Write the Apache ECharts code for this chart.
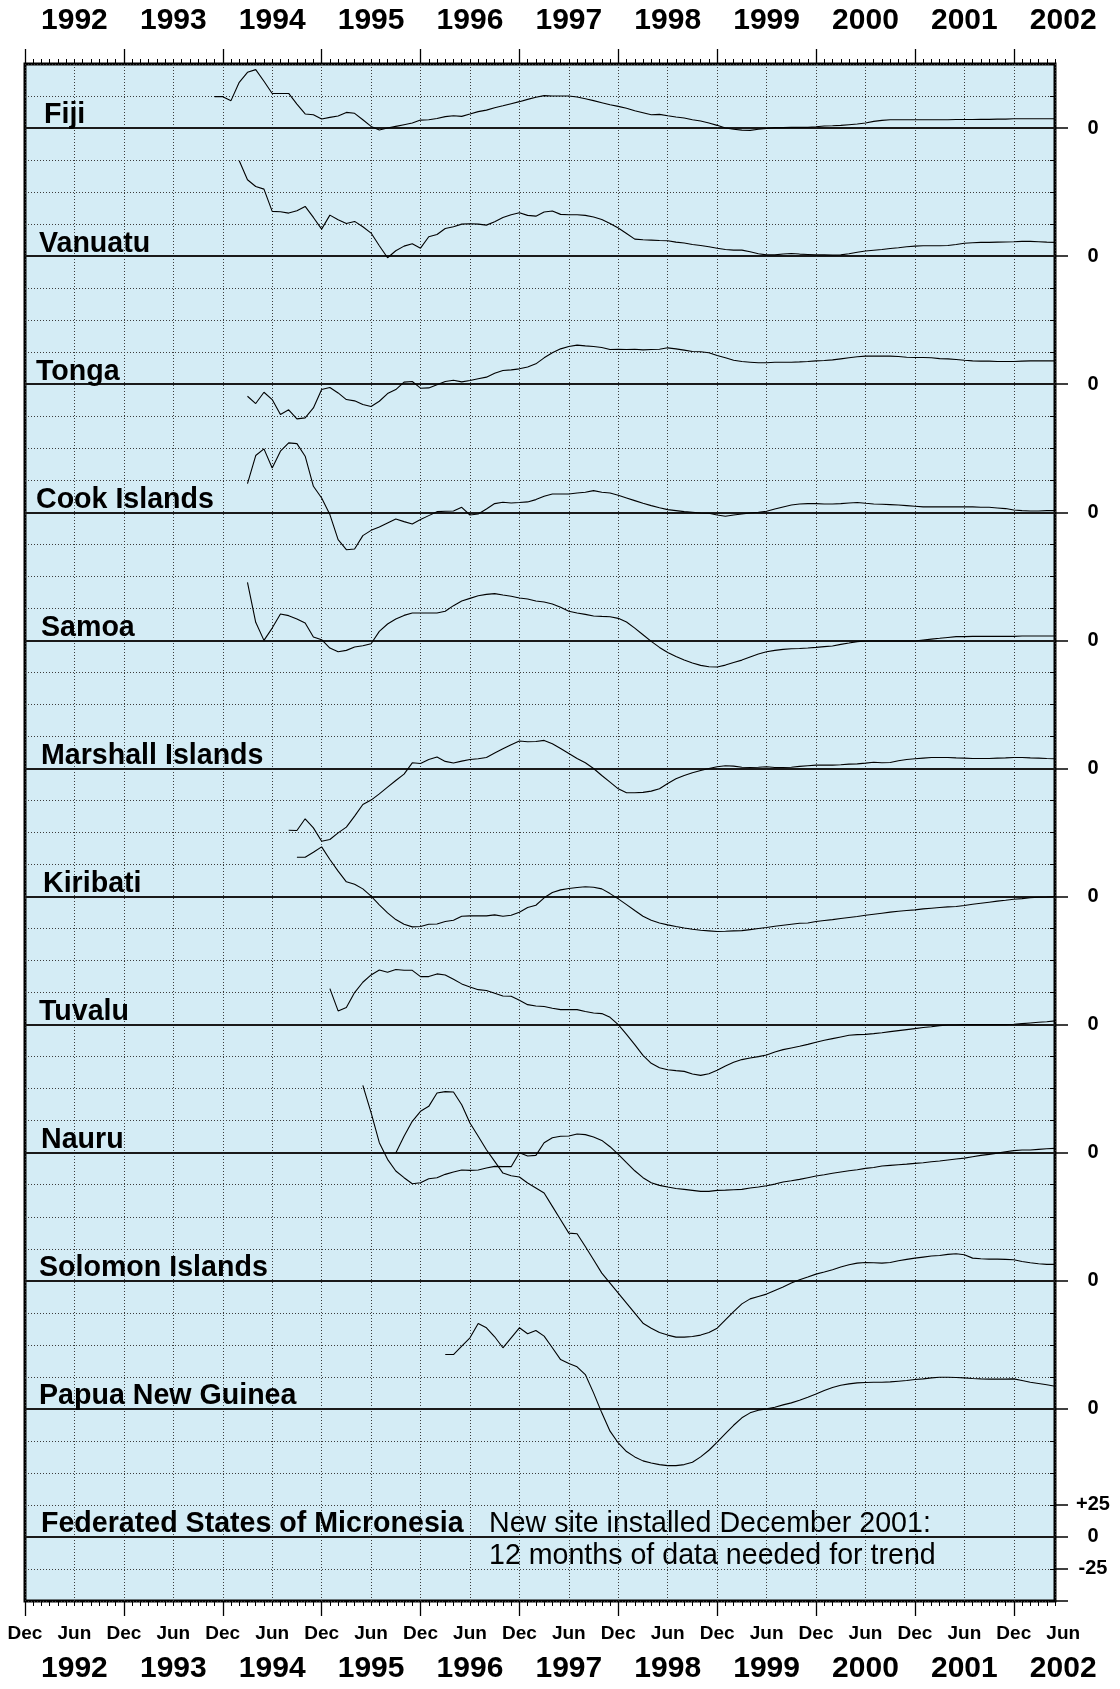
<!DOCTYPE html>
<html><head><meta charset="utf-8">
<script src="https://cdn.jsdelivr.net/npm/echarts@6/dist/echarts.min.js"></script>
<style>html,body{margin:0;padding:0;background:#fff}#c{width:1120px;height:1689px}</style>
</head><body><div id="c"></div>
<script>
// ---- DATA (month index: 0 = Dec 1991) ----
const countries = ["Fiji","Vanuatu","Tonga","Cook Islands","Samoa","Marshall Islands","Kiribati","Tuvalu","Nauru","Solomon Islands","Papua New Guinea","Federated States of Micronesia"];
const yearLabels = ["1992","1993","1994","1995","1996","1997","1998","1999","2000","2001","2002"];
const monthLabels = ["Dec","Jun"];
const startMonth = [23,26,27,27,27,32,33,37,41,45,51];

const fiji = [24.5,24.5,21.4,35.7,43.5,45.6,36.5,27,27,27,18.7,11,10.4,7,8.3,9.4,12.2,11.5,6.5,1.3,-1.6,0,1.3,2.6,3.9,6.2,6.5,7.5,8.9,9.6,9.1,10.9,12.8,14,15.9,17.4,19,20.6,22.4,24,25.3,25,25,25,24.2,22.9,21.4,19.8,18.2,16.9,15.4,13.5,12,10.4,10.7,9.6,8.6,7.8,6.5,5.5,3.9,2.1,0,-1,-1.6,-1.8,-1,-0.3,0.3,0.3,0.5,0.5,0.5,1,1.6,1.8,2.1,2.6,3.1,3.9,5.2,6,6.5,6.5,6.5,6.5,6.5,6.5,6.5,6.5,6.7,6.7,6.7,6.8,6.8,7,7,7.2,7.3,7.3,7.3,7.3,7.3];
const vanuatu = [74.5,59.6,54.4,52.3,34.9,34.6,33.6,35.4,38.8,30.2,21.1,32,28.4,25.5,27.1,22.9,18,8.1,-1.3,4.2,7.8,9.6,6.2,15.1,16.9,21.6,22.9,25,25.3,25,24.2,26.8,30.2,32.3,33.9,31.8,31.2,34.4,35.2,32.6,32.3,32.3,31.8,30.5,28.6,25.5,21.9,17.7,13.3,12.8,12.5,12.2,12,10.9,10.2,9.1,8.3,7.3,6.2,5.2,4.7,4.7,3.4,1.8,1,1,1.6,2,1.6,1.3,1,1,0.8,1,1.8,3,4,4.6,5.2,6,6.5,7.3,7.8,8.1,8.1,8.1,8.3,9.1,10,10.5,10.7,10.7,10.9,11,11.2,11.5,11.5,11.2,10.9,10.7];
const tonga = [-9.4,-15.1,-6.3,-12,-23.7,-20,-27.1,-26.3,-18.5,-4.2,-2.6,-6.8,-12,-13,-15.9,-17.4,-13.3,-7.3,-4.2,1.6,2.1,-3.1,-2.9,-0.5,2.1,3.1,1.8,2.9,4.2,5.5,8.6,10.7,11.2,12,13.5,15.9,20.6,24.5,27.6,29.4,30.5,29.9,29.4,28.6,27.1,27.3,27.1,27.3,26.8,27.1,27.3,28.4,27.6,26.6,25.5,25.3,24.5,22.4,20.6,18.7,17.7,17.2,16.7,16.7,17.2,17.2,17.2,17.4,17.7,18.2,18.5,19,19.8,20.6,21.4,21.9,21.9,21.9,21.9,21.6,21.1,20.8,20.8,20.6,20,19.8,19.3,18.7,18.2,18,18,17.7,17.7,17.7,18,18.2,18.2,18.2,18.2];
const cookIslands = [22.4,44.3,49.5,34.6,47.7,54.2,53.6,43.8,20.3,11.2,-1.8,-21.4,-29.2,-28.6,-18.2,-14.1,-11.5,-8.3,-5.2,-7.3,-9.1,-5.7,-2.6,0.5,0.8,1,3.9,-2.1,-1.3,2.6,6.8,7.8,7.3,7.6,8.1,9.9,12.5,14.3,14.3,14.3,15.1,15.6,16.9,15.6,15.1,13.3,11.2,9.1,7,5.2,3.6,2.1,1.3,0.5,0,-0.5,-0.8,-2.1,-3.1,-2.1,-1.3,-0.5,0,0.8,2.6,4.2,5.7,6.5,6.8,6.8,6.5,6.5,6.8,7.3,7.6,7,6.5,6.3,6,5.7,5.2,4.7,4.2,4.2,4.2,4.2,4.2,4.2,4.2,3.9,3.9,3.4,2.9,1.8,1.3,1,1,1.3,1.3];
const samoa = [45.3,14.1,0,9.6,20.6,19.3,16.7,13.5,2.6,0.5,-6,-8.9,-7.8,-5.2,-4.2,-2.6,7,12.8,16.7,19.5,21.4,21.4,21.4,21.4,22.7,27.1,30.7,32.8,34.9,35.9,36.5,35.4,34.4,33.1,32.3,30.7,29.9,28.4,25.8,22.7,21.4,20.3,19,18.7,18.5,17.2,14.3,9.6,4.4,-0.8,-5.5,-9.4,-12.5,-15.4,-17.7,-19.5,-20.6,-20.8,-19.3,-17.2,-15.4,-13,-10.7,-8.9,-7.8,-7,-6.5,-6.3,-6,-5.5,-4.9,-4.4,-3.1,-2.1,-1,-0.5,-0.5,-0.5,-0.5,-0.5,-0.5,-0.5,0.3,1,1.6,2.3,2.9,2.9,3.1,3.1,3.1,3.1,3.1,3.1,3.4,3.4,3.4,3.4,3.4];
const marshallIslands = [-48.2,-48.4,-39.3,-46.4,-56.8,-55.5,-50.3,-45.8,-37.2,-28.1,-24.7,-19.8,-14.6,-9.4,-4.4,4.4,3.9,7,8.9,5.5,4.2,5.7,7,7.6,8.6,12,15.4,18.5,21.4,20.8,21.1,21.9,19.3,15.6,11.7,7.8,4.4,0,-5.5,-10.7,-15.9,-19,-19,-18.7,-17.7,-15.9,-11.7,-8.1,-5.5,-3.4,-1.6,0,1.3,2.1,1.8,1,0.8,1,1.3,0.8,0.8,1,1.6,2.1,2.6,2.6,2.6,2.9,3.4,3.6,4.2,4.9,4.4,4.7,6,7,7.6,8.1,8.6,8.6,8.6,8.3,8.1,7.8,7.8,7.8,8.1,8.3,8.6,8.6,8.3,8.1,7.8,7.6];
const kiribati = [30.7,30.7,34.6,38.8,28.9,19.8,11.5,9.6,6,0.3,-6.5,-12.8,-18,-21.6,-23.7,-23.4,-21.6,-21.4,-19.5,-18.5,-15.4,-15.1,-15.1,-15.1,-14.3,-15.4,-14.6,-12.2,-8.6,-6.8,-1,3.1,5.2,6.3,7,7.6,7.3,6,2.3,-1.8,-6.3,-10.9,-15.4,-18.5,-20.6,-22.1,-23.4,-24.5,-25.5,-26.3,-26.8,-27.3,-27.1,-26.8,-26.6,-25.8,-25,-24.2,-23.2,-22.4,-21.6,-20.8,-20.6,-19.5,-18.7,-18,-17.2,-16.4,-15.6,-14.6,-13.8,-13,-12.2,-11.5,-10.9,-10.4,-9.6,-9.1,-8.6,-8.1,-7.8,-7,-6,-5.2,-4.4,-3.6,-2.9,-2.1,-1.6,-1,-0.5,-0.3,0];
const tuvalu = [28.1,10.7,13.3,25,33.1,38.8,42.7,40.9,43,42.4,42.4,37.5,37.5,39.6,38.8,35.4,31.8,29.4,27.3,26.6,24.5,22.4,22.1,19,15.6,14.6,14.1,12.8,11.7,11.7,11.7,10.2,9.1,8.6,5.7,0,-7.6,-15.6,-24,-30.2,-33.6,-35.2,-35.9,-36.5,-38.5,-39.6,-38.3,-35.7,-32.3,-29.4,-27.3,-26,-25,-23.7,-21.4,-19.5,-18.2,-16.9,-15.4,-13.8,-12.2,-10.9,-9.6,-8.3,-7.8,-7.6,-7,-6.3,-5.5,-4.7,-3.9,-3.1,-2.3,-1.6,-0.8,-0.3,-0.3,0,0,0,0,0,0,0.3,0.8,1.3,1.8,2.3,2.9];
const nauru = [52.6,31.3,7.8,-5.2,-14.3,-19.5,-24.2,-23.4,-20.3,-19.5,-16.9,-15.1,-13.5,-13.8,-13.5,-12,-10.7,-10.9,-10.9,0,-2.6,-2.1,7.8,11.7,12.8,13,14.6,14.1,12.2,9.6,4.7,-1.3,-7.8,-14.1,-19.5,-23.4,-25.5,-26.8,-27.9,-28.6,-29.4,-30.2,-30.2,-29.4,-29.2,-28.9,-28.6,-27.6,-26.8,-25.8,-24.5,-22.9,-21.9,-20.8,-19.5,-18.2,-17.2,-16.1,-15.1,-14.1,-13.3,-12.2,-11.5,-10.4,-9.9,-9.4,-8.9,-8.3,-7.8,-7,-6.5,-5.7,-4.9,-4.2,-3.1,-2.1,-1.3,-0.3,0.8,1.6,2.1,2.1,2.6,3.1,3.4];
const solomonIslands = [99.7,112.8,124.5,132.3,136.2,146.6,147.7,147.4,137.5,123.2,112.8,102.3,93.2,84.1,82,81,76.3,72.4,68.5,58.1,47.7,37.2,36.7,26.8,16.4,6,-1.8,-9.6,-17.4,-25.3,-33.1,-37,-40.4,-42.4,-44,-44,-43.5,-42.4,-40.4,-37,-30.5,-24,-18,-14.1,-12.2,-10.4,-7.6,-4.9,-1.8,0.8,2.9,5.2,6.8,8.6,10.7,12.5,13.8,14.3,14.1,13.8,14.3,15.6,16.7,17.7,18.5,19.3,19.8,20.6,21.1,20.3,17.7,17.2,16.9,16.9,16.7,16.4,15.1,14.1,13.3,12.8,12.8];
const papuaNewGuinea = [42.4,42.4,49,55.5,66.7,63.3,56.3,47.7,55.5,63.3,58.6,61.2,56.8,47.7,38.5,35.4,32.8,26.8,12.5,-3.1,-17.4,-26.6,-33.3,-37.5,-40.6,-42.2,-43.5,-44.3,-44.3,-43.5,-41.7,-37.5,-32.3,-26,-19.3,-12.8,-7,-3.1,-1,0,1.3,3.1,4.7,6.8,9.1,11.7,14.3,16.7,18.5,19.5,20.3,20.6,20.8,20.8,21.1,21.6,22.1,22.9,23.4,24.2,24.7,24.7,24.5,24.2,23.7,23.4,23.2,23.2,23.2,23.4,22.1,20.8,19.8,18.8,17.7];
const fsmNote = ["New site installed December 2001:","12 months of data needed for trend"];

const seriesValues = [fiji,vanuatu,tonga,cookIslands,samoa,marshallIslands,kiribati,tuvalu,nauru,solomonIslands,papuaNewGuinea];

// ---- LAYOUT ----
const FONT = "'Liberation Sans', Arial, Helvetica, sans-serif";
const PANEL = 100; // vertical units between panel zero lines
const labelLeft = [44,39,36,36,41,41,43,39,41,39,39,41];

const chart = echarts.init(document.getElementById('c'), null, {renderer:'canvas'});

const zeroVals = countries.map((c,i)=> -PANEL*i);
const fsmZero = -PANEL*(countries.length-1);
const tickVals = zeroVals.concat([fsmZero+25, fsmZero-25, fsmZero-50]);
const labelVals = zeroVals.concat([fsmZero+25, fsmZero-25]);
const yearTicks = []; for (let m=0; m<=120; m+=12) yearTicks.push(m);

const series = seriesValues.map((vals,i)=>({
  name: countries[i], type:'line', xAxisIndex:0, yAxisIndex:0,
  showSymbol:false, symbol:'none', animation:false, silent:true, z:5,
  lineStyle:{color:'#000', width:1.1},
  data: vals.map((v,k)=>[startMonth[i]+k, v - PANEL*i])
}));
series[0].markLine = {
  silent:true, symbol:'none', animation:false, label:{show:false}, z:4,
  lineStyle:{color:'#1a1a1a', width:1.8, type:'solid'},
  data: zeroVals.map(v=>({yAxis:v}))
};

const xBase = {type:'value', min:0, max:125, axisLine:{show:false,onZero:false}, axisLabel:{show:false}, splitLine:{show:false}};
chart.setOption({
  animation:false,
  backgroundColor:'#ffffff',
  grid:{left:25, right:65, top:64, bottom:88, show:true, backgroundColor:'#d4ecf5', borderColor:'#000', borderWidth:3, outerBoundsMode:'none', containLabel:false},
  xAxis:[
    Object.assign({}, xBase, {position:'bottom', interval:1, axisTick:{show:true, length:5, lineStyle:{color:'#000', width:1}}}),
    Object.assign({}, xBase, {position:'top', interval:1, axisTick:{show:true, length:5, lineStyle:{color:'#000', width:1}}}),
    Object.assign({}, xBase, {position:'bottom', interval:12, axisTick:{show:true, length:15, customValues:yearTicks, lineStyle:{color:'#000', width:1.3}}}),
    Object.assign({}, xBase, {position:'top', interval:12, axisTick:{show:true, length:15, customValues:yearTicks, lineStyle:{color:'#000', width:1.3}}}),
    Object.assign({}, xBase, {position:'bottom', interval:6, axisTick:{show:false}, splitLine:{show:true, lineStyle:{color:'#3c3c3c', width:1, type:[1,2]}}})
  ],
  yAxis:[
    {type:'value', position:'right', min:-1150, max:50, interval:25,
     axisLine:{show:false,onZero:false}, axisTick:{show:true, inside:true, length:5, lineStyle:{color:'#000', width:1}},
     axisLabel:{show:false}, splitLine:{show:true, lineStyle:{color:'#3c3c3c', width:1, type:[1,2]}}},
    {type:'value', position:'right', min:-1150, max:50,
     axisLine:{show:false,onZero:false},
     axisTick:{show:true, length:13, customValues:tickVals, lineStyle:{color:'#000', width:1.5}},
     axisLabel:{show:true, customValues:labelVals, margin:38, align:'center', fontFamily:FONT, fontSize:20, fontWeight:'bold', color:'#000',
       formatter:(v)=> v===fsmZero+25 ? '+25' : (v===fsmZero-25 ? '-25' : '0')},
     splitLine:{show:false}}
  ],
  series: series
});

// ---- text placed through the chart's own scales ----
const gx = (m)=> chart.convertToPixel({xAxisIndex:0}, m);
const gy = (v)=> chart.convertToPixel({yAxisIndex:0}, v);
const g = [];
countries.forEach((c,i)=>{
  g.push({type:'text', left:labelLeft[i], top: gy(-PANEL*i) - 27, silent:true, z:10,
    style:{text:c, fontFamily:FONT, fontSize:28.6, fontWeight:'bold', fill:'#000'}});
});
g.push({type:'text', left:489, top: gy(fsmZero) - 27, silent:true, z:10,
  style:{text:fsmNote[0], fontFamily:FONT, fontSize:28.6, fill:'#000'}});
g.push({type:'text', left:489, top: gy(fsmZero) + 5, silent:true, z:10,
  style:{text:fsmNote[1], fontFamily:FONT, fontSize:28.6, fill:'#000'}});
yearLabels.forEach((y,k)=>{
  const x = gx(6 + 12*k);
  g.push({type:'text', x:x, y:21, silent:true, style:{text:y, fontFamily:FONT, fontSize:30, fontWeight:'bold', fill:'#000', align:'center', verticalAlign:'middle'}});
  g.push({type:'text', x:x, y:1669, silent:true, style:{text:y, fontFamily:FONT, fontSize:30, fontWeight:'bold', fill:'#000', align:'center', verticalAlign:'middle'}});
});
for (let k=0; k<=21; k++) {
  g.push({type:'text', x:gx(6*k), y:1634, silent:true, style:{text:monthLabels[k%2], fontFamily:FONT, fontSize:19, fontWeight:'bold', fill:'#000', align:'center', verticalAlign:'middle'}});
}
chart.setOption({graphic:{elements:g}});
</script>
</body></html>
